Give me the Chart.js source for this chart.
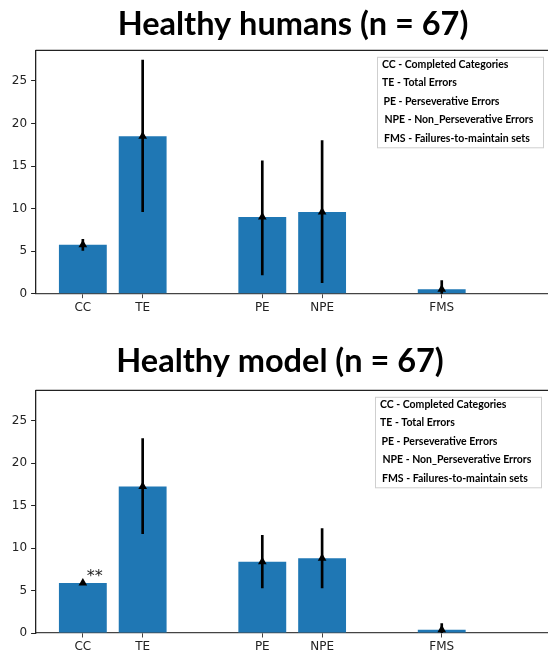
<!DOCTYPE html>
<html lang="en">
<head>
  <meta charset="UTF-8">
  <title>Healthy humans / Healthy model</title>
  <style>
    html, body { margin: 0; padding: 0; background: #fff; overflow: hidden; }
    #wrap { position: relative; width: 548px; height: 658px; overflow: hidden; }
    /* canvas wider than the window: right part of the axes is cut off */
    .chart-box { position: absolute; left: 0; width: 600px; }
    #boxTop { top: 0; height: 340px; }
    #boxBottom { top: 340px; height: 318px; }
  </style>
</head>
<body>
  <div id="wrap">
    <div class="chart-box" id="boxTop"><canvas id="chartHuman"></canvas></div>
    <div class="chart-box" id="boxBottom"><canvas id="chartModel"></canvas></div>
  </div>

  <script src="https://cdn.jsdelivr.net/npm/chart.js@4.4.1/dist/chart.umd.min.js"></script>
  <script>
    // categories + x positions (gaps between groups)
    const categories = ['CC', 'TE', 'PE', 'NPE', 'FMS'];
    const positions = [0, 1, 3, 4, 6];
    const yTicks = [0, 5, 10, 15, 20, 25];

    // Healthy humans : mean, error bar low / high
    const humanMean = [5.75, 18.5, 9.0, 9.6, 0.52];
    const humanLow = [5.1, 9.65, 2.2, 1.3, -0.5];
    const humanHigh = [6.4, 27.45, 15.6, 18.0, 1.55];

    // Healthy model
    const modelMean = [5.9, 17.25, 8.4, 8.8, 0.38];
    const modelLow = [5.75, 11.7, 5.3, 5.3, -0.3];
    const modelHigh = [6.1, 22.9, 11.5, 12.3, 1.1];

    const legendLines = [
      'CC - Completed Categories',
      'TE - Total Errors',
      'PE - Perseverative Errors',
      'NPE - Non_Perseverative Errors',
      'FMS - Failures-to-maintain sets'
    ];

    // title, top spine, legend box, annotation
    const extrasPlugin = {
      id: 'extras',
      afterDraw(chart, args, opts) {
        const ctx = chart.ctx;
        const a = chart.chartArea;
        ctx.save();

        // keep the strip at the cut-off right edge blank
        ctx.fillStyle = '#fff';
        ctx.fillRect(545, a.top + 1, chart.width - 545, a.bottom - a.top - 2);

        // top spine (runs off the right edge)
        ctx.strokeStyle = '#222';
        ctx.lineWidth = 1.3;
        ctx.beginPath();
        ctx.moveTo(a.left, a.top);
        ctx.lineTo(chart.width, a.top);
        ctx.stroke();

        // title
        ctx.fillStyle = '#000';
        ctx.font = "bold 32.5px Lato, 'Open Sans', sans-serif";
        ctx.textAlign = 'center';
        ctx.textBaseline = 'middle';
        ctx.fillText(opts.title, opts.titleX, opts.titleY);

        // legend box (text only, no handles)
        const bx = opts.legendX, by = a.top + 6.5;
        ctx.fillStyle = '#fff';
        ctx.fillRect(bx, by, 166, 90.5);
        ctx.strokeStyle = '#cfcfcf';
        ctx.lineWidth = 1;
        ctx.strokeRect(bx + 0.5, by + 0.5, 166, 90.5);
        ctx.fillStyle = '#000';
        ctx.font = "bold 10.5px Lato, sans-serif";
        ctx.textAlign = 'left';
        const indent = [0, 0, 1.5, 2.5, 2];
        legendLines.forEach((t, i) => {
          ctx.fillText(t, bx + 5 + indent[i], by + 7.5 + i * 18.6);
        });

        // significance mark
        if (opts.mark) {
          const xs = chart.scales.x, ys = chart.scales.y;
          ctx.fillStyle = '#222';
          ctx.font = "16px 'DejaVu Sans'";
          ctx.textAlign = 'center';
          ctx.textBaseline = 'alphabetic';
          ctx.fillText(opts.mark.text, xs.getPixelForValue(opts.mark.x), ys.getPixelForValue(opts.mark.y));
        }
        ctx.restore();
      }
    };

    function makeChart(id, mean, low, high, cfg) {
      return new Chart(document.getElementById(id), {
        type: 'bar',
        plugins: [extrasPlugin],
        data: {
          datasets: [
            {
              // mean markers
              type: 'scatter',
              order: 1,
              data: positions.map((x, i) => ({ x: x, y: mean[i] })),
              pointStyle: 'triangle',
              pointRadius: 5,
              backgroundColor: '#000',
              borderWidth: 0
            },
            {
              // error bars
              type: 'bar',
              order: 2,
              grouped: false,
              data: positions.map((x, i) => ({ x: x, y: [low[i], high[i]] })),
              backgroundColor: '#000',
              barThickness: 2
            },
            {
              type: 'bar',
              order: 3,
              grouped: false,
              data: positions.map((x, i) => ({ x: x, y: mean[i] })),
              backgroundColor: '#1f77b4',
              barPercentage: 1,
              categoryPercentage: 0.8
            }
          ]
        },
        options: {
          responsive: true,
          maintainAspectRatio: false,
          animation: false,
          layout: { autoPadding: false, padding: { left: 0, right: 50, top: cfg.top, bottom: 0 } },
          plugins: {
            legend: { display: false },
            tooltip: { enabled: false },
            extras: cfg.extras
          },
          scales: {
            x: {
              type: 'linear',
              min: -0.79,
              max: 7.81,
              offset: false,
              afterBuildTicks: (s) => { s.ticks = positions.map(v => ({ value: v })); },
              afterFit: (s) => { s.height = cfg.xHeight; },
              grid: { offset: false, drawOnChartArea: false, drawTicks: true, tickLength: 4.5, color: '#444', lineWidth: 1 },
              border: { display: true, color: '#444', width: 1.3 },
              ticks: {
                autoSkip: false,
                maxRotation: 0,
                padding: 2,
                color: '#222',
                font: { size: 12, family: "'DejaVu Sans', sans-serif" },
                callback: (v, i) => categories[i]
              }
            },
            y: {
              min: 0,
              max: 28.6,
              afterBuildTicks: (s) => { s.ticks = yTicks.map(v => ({ value: v })); },
              afterFit: (s) => { s.width = 35.6; },
              grid: { drawOnChartArea: false, drawTicks: true, tickLength: 4.5, color: '#222', lineWidth: 1 },
              border: { display: true, color: '#222', width: 1.3 },
              ticks: { padding: 4, color: '#222', font: { size: 12, family: "'DejaVu Sans', sans-serif" } }
            }
          }
        }
      });
    }

    makeChart('chartHuman', humanMean, humanLow, humanHigh, {
      top: 50.3,
      xHeight: 46.3,
      extras: { title: 'Healthy humans (n = 67)', titleX: 293, titleY: 25, legendX: 377 }
    });

    makeChart('chartModel', modelMean, modelLow, modelHigh, {
      top: 50.3,
      xHeight: 25,
      extras: {
        title: 'Healthy model (n = 67)', titleX: 280, titleY: 22, legendX: 375,
        mark: { text: '**', x: 0.2, y: 6.15 }
      }
    });
  </script>
</body>
</html>
